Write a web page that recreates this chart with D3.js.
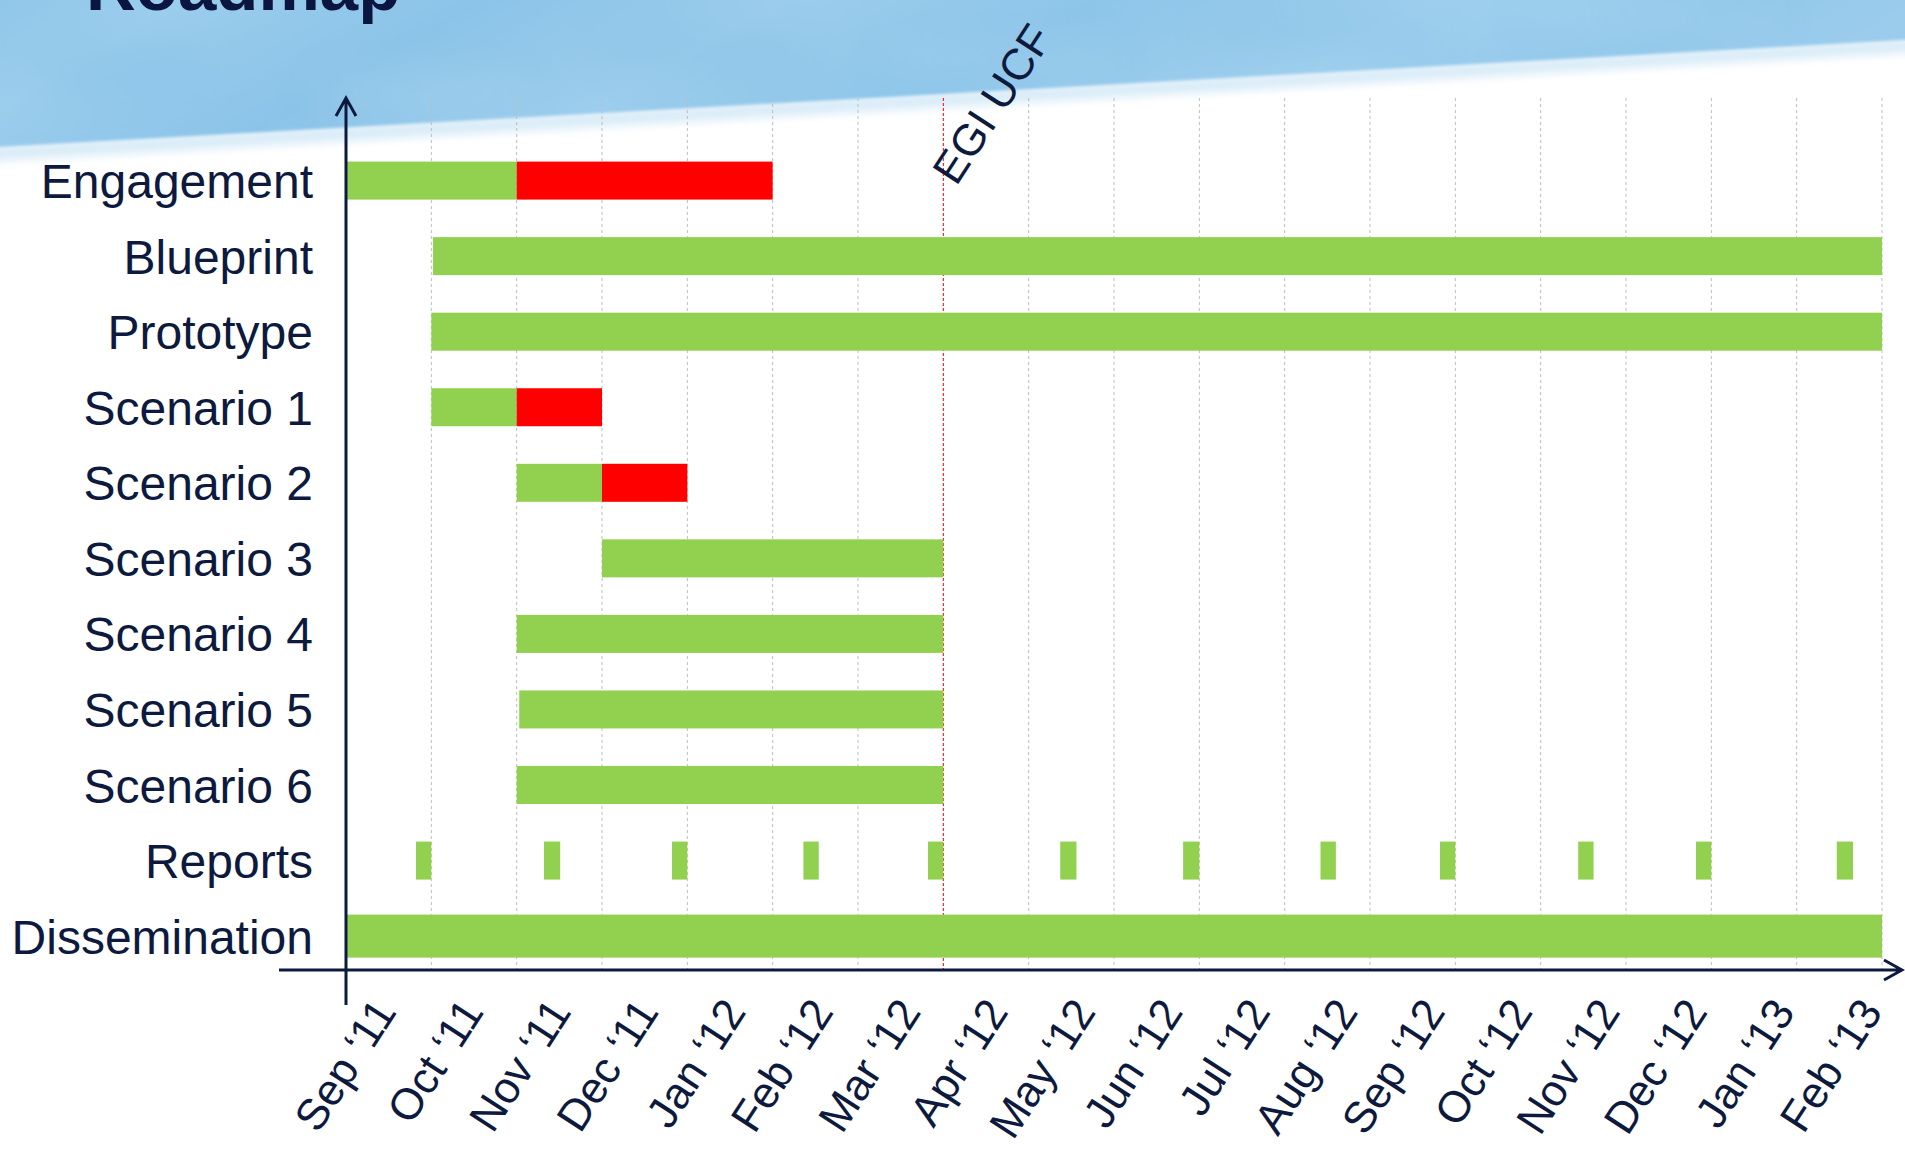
<!DOCTYPE html>
<html>
<head>
<meta charset="utf-8">
<title>Roadmap</title>
<script src="https://cdn.jsdelivr.net/npm/d3@7"></script>
<style>
  body { margin: 0; background: #fff; }
  svg { display: block; }
</style>
</head>
<body>
<script>
// Rows of the roadmap, top to bottom
var rows = ["Engagement", "Blueprint", "Prototype", "Scenario 1", "Scenario 2",
            "Scenario 3", "Scenario 4", "Scenario 5", "Scenario 6", "Reports", "Dissemination"];

// Month labels (one per month band, starting Sep 2011)
var monthLabels = ["Sep \u201811", "Oct \u201811", "Nov \u201811", "Dec \u201811", "Jan \u201812",
                   "Feb \u201812", "Mar \u201812", "Apr \u201812", "May \u201812", "Jun \u201812",
                   "Jul \u201812", "Aug \u201812", "Sep \u201812", "Oct \u201812", "Nov \u201812",
                   "Dec \u201812", "Jan \u201813", "Feb \u201813"];

// Tasks in months since 1 Sep 2011: [row, start, end]
var doneTasks = [
  ["Engagement", 0, 2],
  ["Blueprint", 1.02, 18],
  ["Prototype", 1, 18],
  ["Scenario 1", 1, 2],
  ["Scenario 2", 2, 3],
  ["Scenario 3", 3, 7],
  ["Scenario 4", 2, 7],
  ["Scenario 5", 2.03, 7],
  ["Scenario 6", 2, 7],
  ["Dissemination", 0, 18]
];
var lateTasks = [
  ["Engagement", 2, 5],
  ["Scenario 1", 2, 3],
  ["Scenario 2", 3, 4]
];

// Report deliveries: [start, end] in months
var reports = [[0.82, 1.0], [2.32, 2.51], [3.82, 4.0], [5.36, 5.54], [6.82, 7.0], [8.37, 8.56],
               [9.81, 10.0], [11.42, 11.6], [12.82, 13.0], [14.44, 14.62], [15.82, 16.0], [17.47, 17.66]];

// Milestones
var milestoneLabels = ["EGI UCF"];
var milestoneMonths = [7];

var svgWidth = 1905;
var svgHeight = 1152;
var navy = "#0d1a3d";
var green = "#92d050";
var red = "#ff0000";
var font = "'Liberation Sans', Arial, sans-serif";

var svg = d3.select("body")
  .append("svg")
  .attr("width", svgWidth)
  .attr("height", svgHeight);

// scales
var x = d3.scaleLinear().domain([0, 18]).range([346, 1882]);
var y = d3.scaleBand().domain(rows).range([142.8, 973.9]);
var labelX = d3.scalePoint().domain(monthLabels).range([397, 1883]);
var axisY = 970;
var gridTop = 98;

// background swoosh
var defs = svg.append("defs");
var grad = defs.append("linearGradient")
  .attr("id", "sky")
  .attr("x1", 0).attr("y1", 0).attr("x2", 1).attr("y2", 0.15);
[["0", "#8ec5e9"], ["0.12", "#9bcdec"], ["0.27", "#8bc3e8"], ["0.42", "#9ccdec"],
 ["0.58", "#8dc5e9"], ["0.75", "#9fcfed"], ["0.9", "#92c8ea"], ["1", "#9bccec"]]
  .forEach(function(s) {
    grad.append("stop").attr("offset", s[0]).attr("stop-color", s[1]);
  });
defs.append("filter").attr("id", "soft")
  .attr("x", "-5%").attr("y", "-20%").attr("width", "110%").attr("height", "140%")
  .append("feGaussianBlur").attr("stdDeviation", 1.6);
defs.append("filter").attr("id", "glow")
  .attr("x", "-5%").attr("y", "-50%").attr("width", "110%").attr("height", "200%")
  .append("feGaussianBlur").attr("stdDeviation", 4);
defs.append("filter").attr("id", "haze")
  .attr("x", "-50%").attr("y", "-50%").attr("width", "200%").attr("height", "200%")
  .append("feGaussianBlur").attr("stdDeviation", 18);
defs.append("clipPath").attr("id", "skyClip")
  .append("path").attr("d", "M-20,-20L1925,-20L1925,39L-20,148Z");

svg.append("path")
  .attr("d", "M-20,147L1925,38L1925,52L-20,162Z")
  .attr("fill", "#d9ecf8")
  .attr("filter", "url(#glow)");

var sky = svg.append("g").attr("filter", "url(#soft)");
sky.append("path")
  .attr("d", "M-20,-20L1925,-20L1925,39L-20,148Z")
  .attr("fill", "url(#sky)");

// faint texture in the sky
var blotches = sky.append("g").attr("clip-path", "url(#skyClip)");
[[120, 70, 90, 30, "#84c0e7"], [420, 90, 110, 25, "#a6d3ef"], [700, 50, 100, 30, "#86c1e7"],
 [1000, 60, 120, 25, "#a5d2ef"], [1320, 30, 120, 25, "#88c2e8"], [1650, 20, 130, 25, "#a4d2ef"]]
  .forEach(function(b) {
    blotches.append("ellipse")
      .attr("cx", b[0]).attr("cy", b[1]).attr("rx", b[2]).attr("ry", b[3])
      .attr("fill", b[4]).attr("opacity", 0.35)
      .attr("filter", "url(#haze)");
  });

// title, cut off at the top
svg.append("text")
  .attr("x", 86)
  .attr("y", 10)
  .attr("font-family", font)
  .attr("font-weight", "bold")
  .attr("font-size", 69)
  .attr("fill", "#0b1640")
  .text("Roadmap");

// vertical gridlines
var gridMonths = d3.range(1, 19).filter(function(m) { return milestoneMonths.indexOf(m) < 0; });
svg.append("g").selectAll("line")
  .data(gridMonths)
  .enter()
  .append("line")
  .attr("x1", function(m) { return x(m); })
  .attr("x2", function(m) { return x(m); })
  .attr("y1", gridTop)
  .attr("y2", axisY)
  .attr("stroke", "#bdbdbd")
  .attr("stroke-width", 1)
  .attr("stroke-dasharray", "3,3");

svg.append("g").selectAll("line")
  .data(milestoneMonths)
  .enter()
  .append("line")
  .attr("x1", function(m) { return x(m); })
  .attr("x2", function(m) { return x(m); })
  .attr("y1", gridTop)
  .attr("y2", axisY)
  .attr("stroke", red)
  .attr("stroke-width", 1)
  .attr("stroke-dasharray", "3,2");

// bars
var barH = function(row) { return row === "Dissemination" ? 43 : 38; };
var barY = function(row) { return y(row) + y.bandwidth() / 2 - barH(row) / 2; };

function drawBars(data, color) {
  svg.append("g").selectAll("rect")
    .data(data)
    .enter()
    .append("rect")
    .attr("x", function(d) { return x(d[1]); })
    .attr("y", function(d) { return barY(d[0]); })
    .attr("width", function(d) { return x(d[2]) - x(d[1]); })
    .attr("height", function(d) { return barH(d[0]); })
    .attr("fill", color);
}
drawBars(doneTasks, green);
drawBars(lateTasks, red);

svg.append("g").selectAll("rect")
  .data(reports)
  .enter()
  .append("rect")
  .attr("x", function(d) { return x(d[0]); })
  .attr("y", barY("Reports"))
  .attr("width", function(d) { return x(d[1]) - x(d[0]); })
  .attr("height", barH("Reports"))
  .attr("fill", green);

// axes with arrow heads
var x0 = x(0);
svg.append("path")
  .attr("d", "M" + x0 + ",1005V" + gridTop + "M" + (x0 - 10) + "," + (gridTop + 18) +
             "L" + x0 + "," + gridTop + "L" + (x0 + 10) + "," + (gridTop + 18))
  .attr("fill", "none")
  .attr("stroke", navy)
  .attr("stroke-width", 3);

svg.append("path")
  .attr("d", "M279," + axisY + "H1902M1884," + (axisY - 10) + "L1902," + axisY + "L1884," + (axisY + 10))
  .attr("fill", "none")
  .attr("stroke", navy)
  .attr("stroke-width", 3);

// row labels
var yAxis = svg.append("g")
  .attr("transform", "translate(313,0)")
  .call(d3.axisLeft(y).tickSize(0).tickPadding(0));
yAxis.select(".domain").remove();
yAxis.selectAll("text")
  .attr("dy", 17.5)
  .attr("font-family", font)
  .attr("font-size", 48)
  .attr("fill", navy);

// month labels, rotated
var xAxis = svg.append("g")
  .attr("transform", "translate(0,1012)")
  .call(d3.axisBottom(labelX).tickSize(0).tickPadding(0));
xAxis.select(".domain").remove();
xAxis.selectAll("text")
  .attr("x", 0)
  .attr("y", 0)
  .attr("dy", null)
  .attr("transform", "rotate(-57)")
  .style("text-anchor", "end")
  .attr("font-family", font)
  .attr("font-size", 44)
  .attr("fill", navy);

// milestone label
svg.append("g").selectAll("text")
  .data(milestoneMonths)
  .enter()
  .append("text")
  .attr("transform", function(m) { return "translate(" + (x(m) + 13) + ",187) rotate(-57)"; })
  .attr("font-family", font)
  .attr("font-size", 44)
  .attr("fill", navy)
  .text(function(m, i) { return milestoneLabels[i]; });
</script>
</body>
</html>
